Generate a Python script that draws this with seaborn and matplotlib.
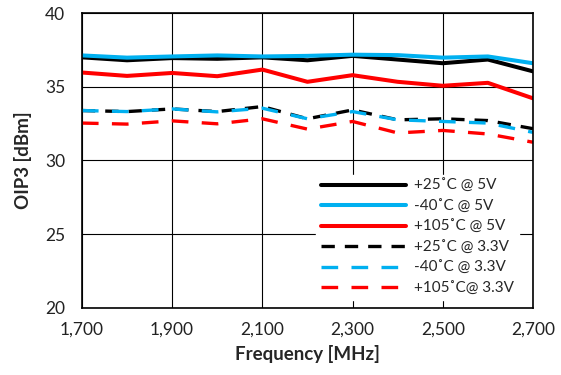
import pandas as pd
import matplotlib
matplotlib.use("Agg")
import matplotlib.pyplot as plt
import seaborn as sns
from matplotlib.ticker import FuncFormatter

freq = [1700, 1800, 1900, 2000, 2100, 2200, 2300, 2400, 2500, 2600, 2700]

p25_5v = [37.00, 36.80, 36.95, 36.90, 37.00, 36.80, 37.10, 36.85, 36.60, 36.85, 36.05]
m40_5v = [37.13, 36.98, 37.06, 37.13, 37.06, 37.10, 37.18, 37.15, 36.98, 37.06, 36.60]
p105_5v = [35.97, 35.74, 35.94, 35.72, 36.17, 35.34, 35.79, 35.34, 35.07, 35.27, 34.22]
p25_33v = [33.39, 33.32, 33.50, 33.32, 33.66, 32.83, 33.43, 32.76, 32.83, 32.71, 32.16]
m40_33v = [33.39, 33.32, 33.50, 33.30, 33.55, 32.83, 33.32, 32.76, 32.65, 32.54, 31.91]
p105_33v = [32.54, 32.47, 32.69, 32.49, 32.83, 32.13, 32.65, 31.87, 32.04, 31.80, 31.24]

labels = ["+25˚C @ 5V", "-40˚C @ 5V", "+105˚C @ 5V",
          "+25˚C @ 3.3V", "-40˚C @ 3.3V", "+105˚C@ 3.3V"]

series = [p25_5v, m40_5v, p105_5v, p25_33v, m40_33v, p105_33v]
colors = ["black", "#00B0F0", "#FF0000", "black", "#00B0F0", "#FF0000"]
dashes = [None, None, None, [4, 3], [5, 4], [5, 4]]

sns.set_style("white")
plt.rcParams["font.family"] = ["Lato", "DejaVu Sans"]

fig = plt.figure(figsize=(5.61, 3.75), dpi=100)
ax = fig.add_axes([0.146, 0.179, 0.804, 0.786])

for vals, lab, col, dsh in zip(series, labels, colors, dashes):
    df = pd.DataFrame({"freq": freq, "oip3": vals})
    sns.lineplot(data=df, x="freq", y="oip3", ax=ax, color=col,
                 label=lab, linewidth=2.9 if dsh is None else 2.4)
    if dsh is not None:
        ax.lines[-1].set_dashes(dsh)

ax.set_xlim(1700, 2700)
ax.set_ylim(20, 40)
ax.set_xticks(range(1700, 2701, 200))
ax.set_yticks(range(20, 41, 5))
ax.xaxis.set_major_formatter(FuncFormatter(lambda v, p: f"{int(v):,}"))
ax.grid(True, color="black", linewidth=0.8)
ax.set_axisbelow(True)
for s in ax.spines.values():
    s.set_color("black")
    s.set_linewidth(1.2)
ax.tick_params(axis="x", labelsize=12.5, length=0, pad=10, colors="#222222")
ax.tick_params(axis="y", labelsize=12.5, length=0, pad=12, colors="#222222")
ax.set_xlabel("Frequency [MHz]", fontsize=13.5, fontweight="bold", labelpad=5)
ax.set_ylabel("OIP3 [dBm]", fontsize=13.5, fontweight="bold", labelpad=9)

leg = ax.legend(loc="lower right", fontsize=11, frameon=True, fancybox=False,
                handlelength=5.6, handletextpad=0.5, labelspacing=0.42,
                borderpad=0.3, bbox_to_anchor=(0.985, 0.0))
leg.get_frame().set_edgecolor("white")
leg.get_frame().set_alpha(1)

fig.savefig("out.png", dpi=100)
